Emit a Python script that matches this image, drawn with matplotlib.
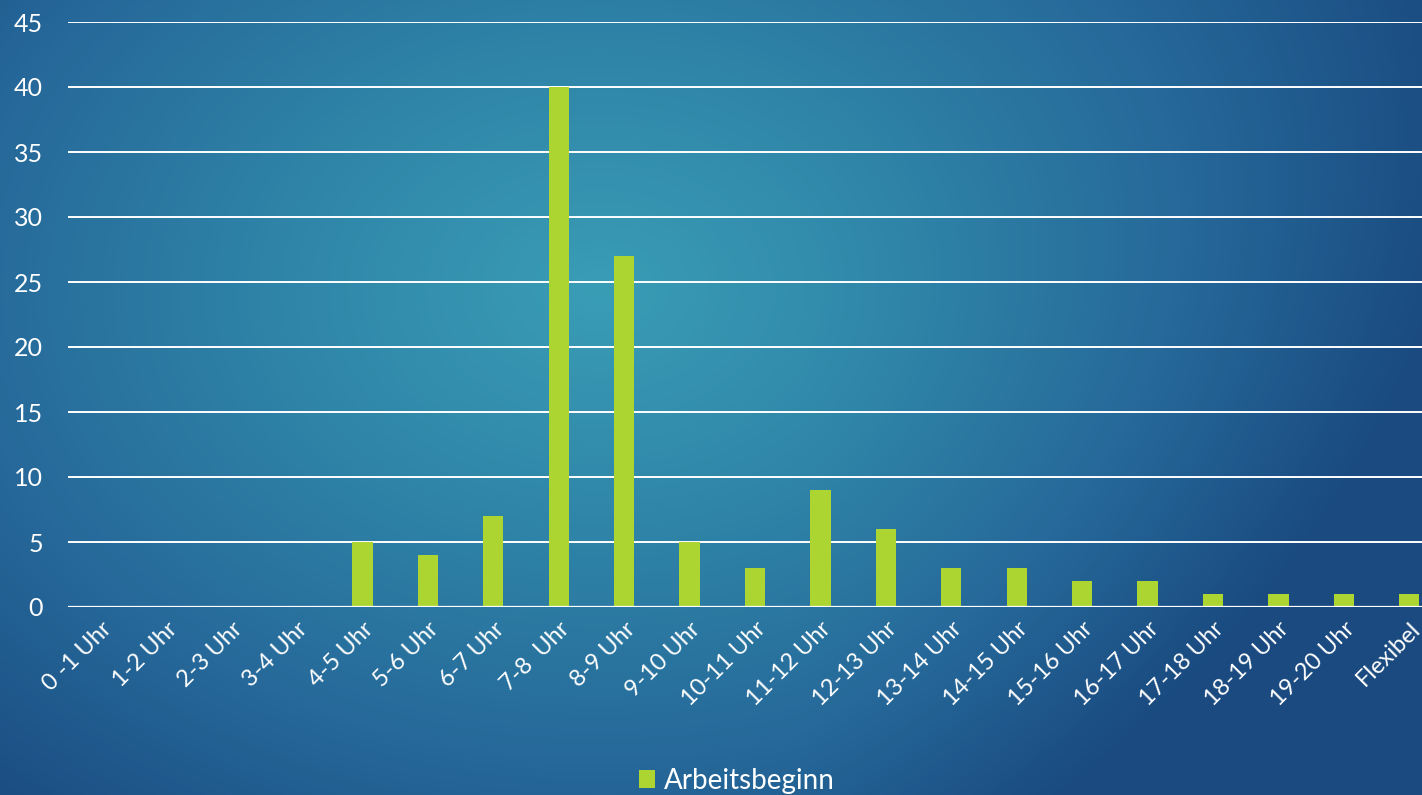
import numpy as np
import matplotlib.pyplot as plt
from matplotlib.colors import LinearSegmentedColormap

categories = ["0 -1 Uhr", "1-2 Uhr", "2-3 Uhr", "3-4 Uhr", "4-5 Uhr", "5-6 Uhr",
              "6-7 Uhr", "7-8  Uhr", "8-9 Uhr", "9-10 Uhr", "10-11 Uhr", "11-12 Uhr",
              "12-13 Uhr", "13-14 Uhr", "14-15 Uhr", "15-16 Uhr", "16-17 Uhr",
              "17-18 Uhr", "18-19 Uhr", "19-20 Uhr", "Flexibel"]
values = [0, 0, 0, 0, 5, 4, 7, 40, 27, 5, 3, 9, 6, 3, 3, 2, 2, 1, 1, 1, 1]
yticks = [0, 5, 10, 15, 20, 25, 30, 35, 40, 45]

plt.rcParams['font.family'] = ['Lato', 'DejaVu Sans']

W, H = 1422, 795
fig = plt.figure(figsize=(W / 100, H / 100), dpi=100)

# background: radial teal gradient, darker towards bottom right
bg = fig.add_axes([0, 0, 1, 1])
yy, xx = np.mgrid[0:H, 0:W]
d = np.sqrt(((xx - 600) / 950.0) ** 2 + ((yy - 290) / 700.0) ** 2)
d = d + 0.3 * np.clip((xx - 800) / 620.0, 0, None) * np.clip(yy / 795.0, 0, None)
cmap = LinearSegmentedColormap.from_list('bg', ['#3a9db6', '#2f85a8', '#26699a', '#1a4a80'])
bg.imshow(np.clip(d, 0, 1), cmap=cmap, aspect='auto', extent=[0, 1, 0, 1], vmin=0, vmax=1)
bg.axis('off')

ax = fig.add_axes([68 / W, 188 / H, 1374 / W, 585 / H])
ax.patch.set_alpha(0)
x = np.arange(len(categories))
ax.bar(x, values, width=0.31, color='#acd531', zorder=3, label='Arbeitsbeginn')
ax.set_xlim(-0.5, len(categories) - 0.5)
ax.set_ylim(0, 45)
ax.set_yticks(yticks)
ax.yaxis.grid(True, color='white', lw=1.4, zorder=1)
ax.set_axisbelow(True)
for s in ax.spines.values():
    s.set_visible(False)
ax.axhline(0, color='white', lw=1.6, zorder=4)
ax.tick_params(axis='both', length=0, colors='white')
ax.tick_params(axis='y', pad=18, labelsize=18)
ax.set_xticks(x)
ax.set_xticklabels(categories, rotation=45, ha='right', rotation_mode='anchor')
ax.tick_params(axis='x', pad=8, labelsize=17)

fig.legend(loc='lower center', bbox_to_anchor=(0.518, -0.03), frameon=False,
           fontsize=20, labelcolor='white', handlelength=0.6, handleheight=0.6,
           handletextpad=0.3)

fig.savefig('out.png', dpi=100)
